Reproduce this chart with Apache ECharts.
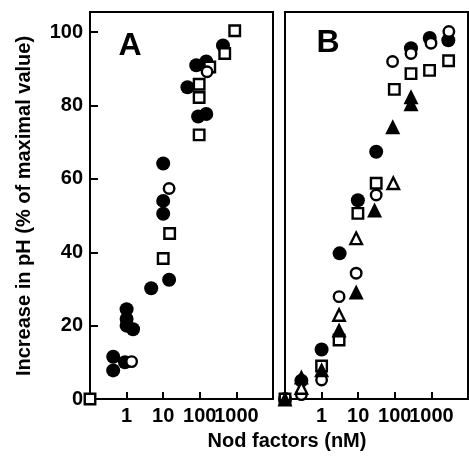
<!DOCTYPE html>
<html><head><meta charset="utf-8">
<script src="https://cdn.jsdelivr.net/npm/echarts@6/dist/echarts.min.js"></script>
<style>html,body{margin:0;padding:0;background:#fff}#c{width:469px;height:457px}</style>
</head><body><div id="c"></div>
<script>
// tick labels
const xTickLabels = ['1', '10', '100', '1000'];
const yTickLabels = ['0', '20', '40', '60', '80', '100'];

// Panel A (dose nM; 0 dose plotted at axis origin 0.1)
const aFilledCircleDose = [0.43, 0.43, 0.9, 1, 1, 1, 1.5, 4.7, 10, 10, 10, 14.5, 46, 80, 90, 150, 150, 430];
const aFilledCircleResp = [11.5, 7.8, 10, 24.5, 21.8, 20, 19, 30.2, 64.2, 54, 50.5, 32.5, 85, 91, 77, 92, 77.7, 96.4];
const aOpenCircleDose = [1.37, 14.5, 158];
const aOpenCircleResp = [10.2, 57.4, 89.2];
const aOpenSquareDose = [0.1, 10, 15, 96, 96, 96, 187, 480, 900];
const aOpenSquareResp = [0, 38.3, 45.1, 85.8, 82.2, 72, 90.5, 94.2, 100.4];

// Panel B
const bFilledCircleDose = [0.1, 0.28, 1, 3.1, 9.8, 31, 277, 900, 2900];
const bFilledCircleResp = [0, 5, 13.5, 39.7, 54.2, 67.4, 95.6, 98.4, 97.8];
const bOpenCircleDose = [0.28, 1, 3, 8.8, 31, 87, 277, 975, 3000];
const bOpenCircleResp = [1.2, 5.2, 27.9, 34.3, 55.6, 92, 94.2, 97, 100.2];
const bOpenSquareDose = [0.1, 1, 3, 9.8, 31, 97, 277, 890, 2950];
const bOpenSquareResp = [0, 9, 16.1, 50.6, 58.8, 84.4, 88.7, 89.6, 92.2];
const bFilledTriangleDose = [0.1, 0.28, 1, 3, 8.8, 28, 88, 277, 277];
const bFilledTriangleResp = [0, 6, 8, 18.8, 29.2, 51.5, 74.2, 82.4, 80.5];
const bOpenTriangleDose = [0.28, 3, 8.8, 91];
const bOpenTriangleResp = [3, 22.9, 43.8, 58.8];

const pairs = (xs, ys) => xs.map((x, i) => [x, ys[i]]);
const FONT = 'Liberation Sans, Arial, Helvetica, sans-serif';

const chart = echarts.init(document.getElementById('c'), null, {renderer: 'canvas'});

function xAxisDef(gridIndex) {
  return {
    type: 'log', logBase: 10, gridIndex, min: 0.1, max: 10000,
    axisLine: {lineStyle: {color: '#000', width: 2}},
    axisTick: {inside: true, length: 7, lineStyle: {color: '#000', width: 2}},
    splitLine: {show: false}, minorTick: {show: false},
    axisLabel: {
      color: '#000', fontFamily: FONT, fontSize: 20, fontWeight: 'bold', margin: 7,
      showMinLabel: false, showMaxLabel: false,
      formatter: v => { const s = String(Math.round(v)); return (v >= 1 && xTickLabels.includes(s)) ? s : ''; }
    }
  };
}
function yAxisDef(gridIndex, showLabels) {
  return {
    type: 'value', gridIndex, min: 0, max: 105.5, interval: 20,
    axisLine: {show: true, lineStyle: {color: '#000', width: 2}},
    axisTick: {show: showLabels, inside: true, length: 8, lineStyle: {color: '#000', width: 2}},
    splitLine: {show: false},
    axisLabel: {
      show: showLabels, color: '#000', fontFamily: FONT, fontSize: 20, fontWeight: 'bold', margin: 7,
      showMaxLabel: false,
      formatter: v => { const s = String(Math.round(v)); return (Math.abs(v - Math.round(v)) < 1e-6 && yTickLabels.includes(s)) ? s : ''; }
    }
  };
}

const filled = {color: '#000', opacity: 1};
const open = {color: '#fff', borderColor: '#000', borderWidth: 2.4, opacity: 1};

function sc(name, idx, data, symbol, size, style, z) {
  return {name, type: 'scatter', xAxisIndex: idx, yAxisIndex: idx, data, symbol, symbolSize: size,
          itemStyle: style, clip: false, z: z || 2, emphasis: {disabled: true}};
}

chart.setOption({
  animation: false,
  backgroundColor: '#fff',
  grid: [
    {left: 90, top: 12, width: 183, height: 387, show: true, borderColor: '#000', borderWidth: 2, backgroundColor: 'transparent'},
    {left: 285, top: 12, width: 183, height: 387, show: true, borderColor: '#000', borderWidth: 2, backgroundColor: 'transparent'}
  ],
  xAxis: [xAxisDef(0), xAxisDef(1)],
  yAxis: [yAxisDef(0, true), yAxisDef(1, false)],
  series: [
    sc('A filled circle', 0, pairs(aFilledCircleDose, aFilledCircleResp), 'circle', 14, filled, 2),
    sc('A open square', 0, pairs(aOpenSquareDose, aOpenSquareResp), 'rect', 10.5, open, 3),
    sc('A open circle', 0, pairs(aOpenCircleDose, aOpenCircleResp), 'circle', 10.5, open, 4),
    sc('B filled circle', 1, pairs(bFilledCircleDose, bFilledCircleResp), 'circle', 14, filled, 2),
    sc('B open circle', 1, pairs(bOpenCircleDose, bOpenCircleResp), 'circle', 10.5, open, 3),
    sc('B open square', 1, pairs(bOpenSquareDose, bOpenSquareResp), 'rect', 10.5, open, 3),
    sc('B open triangle', 1, pairs(bOpenTriangleDose, bOpenTriangleResp), 'triangle', 11.5, open, 3),
    sc('B filled triangle', 1, pairs(bFilledTriangleDose, bFilledTriangleResp), 'triangle', 15, filled, 4)
  ],
  graphic: [
    {type: 'text', x: 24, y: 206, rotation: Math.PI / 2,
     style: {text: 'Increase in pH (% of maximal value)', font: 'bold 20px ' + FONT, fill: '#000',
             align: 'center', verticalAlign: 'middle', textAlign: 'center', textVerticalAlign: 'middle'}},
    {type: 'text', x: 287, y: 441,
     style: {text: 'Nod factors (nM)', font: 'bold 20px ' + FONT, fill: '#000',
             align: 'center', verticalAlign: 'middle', textAlign: 'center', textVerticalAlign: 'middle'}},
    {type: 'text', x: 130, y: 46,
     style: {text: 'A', font: 'bold 32px ' + FONT, fill: '#000',
             align: 'center', verticalAlign: 'middle', textAlign: 'center', textVerticalAlign: 'middle'}},
    {type: 'text', x: 328, y: 43,
     style: {text: 'B', font: 'bold 32px ' + FONT, fill: '#000',
             align: 'center', verticalAlign: 'middle', textAlign: 'center', textVerticalAlign: 'middle'}}
  ]
});
</script></body></html>
